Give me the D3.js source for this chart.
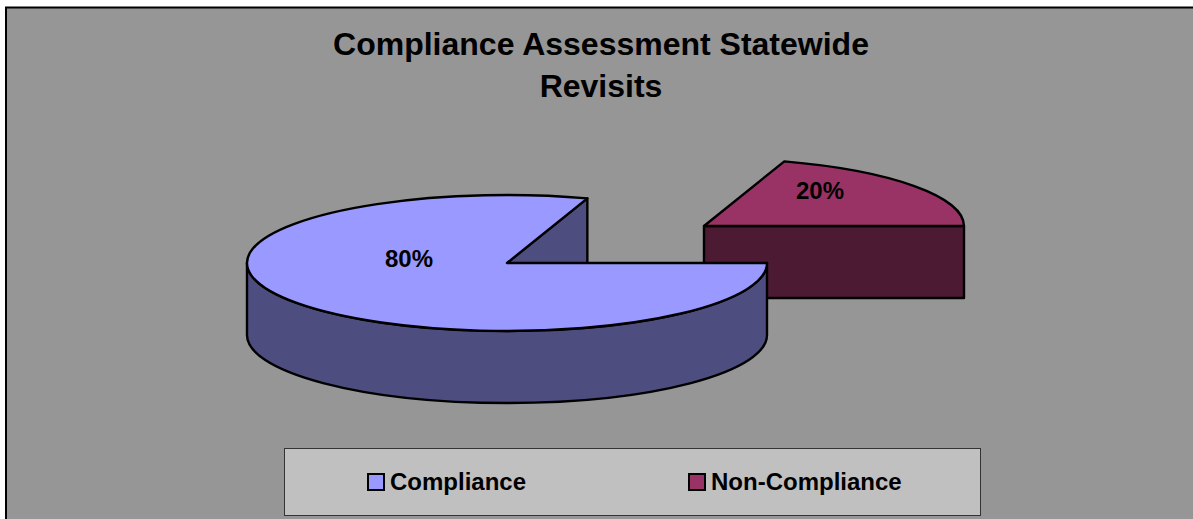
<!DOCTYPE html>
<html>
<head>
<meta charset="utf-8">
<script src="https://cdn.jsdelivr.net/npm/d3@7"></script>
<style>
    body { margin: 0; background: #fff; }
    svg { display: block; }
    text { font-family: "Liberation Sans", Arial, sans-serif; font-weight: bold; fill: #000; }
</style>
</head>
<body>
<div id="chart"></div>
<script>
// Chart data
const titleLines = ["Compliance Assessment Statewide", "Revisits"];
const categories = ["Compliance", "Non-Compliance"];
const values = [80, 20];
const percentLabels = ["80%", "20%"];
const topColors = ["#9999ff", "#993366"];
const sideColors = ["#4d4d80", "#4d1a33"];

const width = 1193, height = 519;
const rx = 260, ry = 68, depth = 72;
const center = { x: 507, y: 263 };
// Non-Compliance slice is pulled out of the pie
const offsets = [{ x: 0, y: 0 }, { x: 197, y: -37 }];
const labelPos = [{ x: 409, y: 259 }, { x: 820, y: 191 }];

const svg = d3.select("#chart")
    .append("svg")
    .attr("width", width)
    .attr("height", height);

// Background frame
svg.append("rect")
    .attr("x", 6).attr("y", 7.5)
    .attr("width", width + 10).attr("height", height + 10)
    .attr("fill", "#969696")
    .attr("stroke", "#000")
    .attr("stroke-width", 2);

// Title
svg.append("text")
    .attr("text-anchor", "middle")
    .style("font-size", "32px")
    .selectAll("tspan")
    .data(titleLines)
    .enter()
    .append("tspan")
    .attr("x", 601)
    .attr("y", (d, i) => 55 + i * 42)
    .text(d => d);

// Pie angles, clockwise from north, first slice starts at 3 o'clock
const pie = d3.pie()
    .sort(null)
    .startAngle(Math.PI / 2)
    .endAngle(Math.PI / 2 + 2 * Math.PI);
const slices = pie(values).map((d, i) => ({ ...d, index: i, offset: offsets[i] }));

const sx = d3.scaleLinear().domain([-1, 1]).range([-rx, rx]);
const sy = d3.scaleLinear().domain([-1, 1]).range([-ry, ry]);

function point(d, angle) {
    return [
        center.x + d.offset.x + sx(Math.sin(angle)),
        center.y + d.offset.y + sy(-Math.cos(angle))
    ];
}

function topPath(d) {
    const [x0, y0] = point(d, d.startAngle);
    const [x1, y1] = point(d, d.endAngle);
    const cx = center.x + d.offset.x, cy = center.y + d.offset.y;
    const large = d.endAngle - d.startAngle > Math.PI ? 1 : 0;
    return `M${cx},${cy}L${x0},${y0}A${rx},${ry} 0 ${large} 1 ${x1},${y1}Z`;
}

// Flat wall between the slice centre and a point on its rim
function radialWall(d, angle) {
    const [x, y] = point(d, angle);
    const cx = center.x + d.offset.x, cy = center.y + d.offset.y;
    return `M${cx},${cy}L${x},${y}L${x},${y + depth}L${cx},${cy + depth}Z`;
}

// Curved outer wall, only the front half of the pie can be seen
function outerWall(d) {
    const [x0, y0] = point(d, Math.PI / 2);
    const [x1, y1] = point(d, 3 * Math.PI / 2);
    return `M${x0},${y0}A${rx},${ry} 0 0 1 ${x1},${y1}L${x1},${y1 + depth}A${rx},${ry} 0 0 0 ${x0},${y0 + depth}Z`;
}

const strokeW = 2.4;

// Pulled out slice goes first, the big slice overlaps it
[slices[1], slices[0]].forEach(d => {
    const g = svg.append("g")
        .attr("stroke", "#000")
        .attr("stroke-width", strokeW)
        .attr("stroke-linejoin", "round");

    if (d.index === 0) {
        g.append("path").attr("d", radialWall(d, d.endAngle)).attr("fill", sideColors[d.index]);
        g.append("path").attr("d", outerWall(d)).attr("fill", sideColors[d.index]);
    } else {
        g.append("path").attr("d", radialWall(d, d.endAngle)).attr("fill", sideColors[d.index]);
    }
    g.append("path").attr("d", topPath(d)).attr("fill", topColors[d.index]);
});

// Data labels
svg.selectAll(".pct")
    .data(percentLabels)
    .enter()
    .append("text")
    .attr("class", "pct")
    .attr("x", (d, i) => labelPos[i].x)
    .attr("y", (d, i) => labelPos[i].y + 8)
    .attr("text-anchor", "middle")
    .style("font-size", "24px")
    .text(d => d);

// Legend
svg.append("rect")
    .attr("x", 284.5).attr("y", 448.5)
    .attr("width", 696).attr("height", 67)
    .attr("fill", "#c0c0c0")
    .attr("stroke", "#333")
    .attr("stroke-width", 1);

const legendX = d3.scalePoint().domain(categories).range([368, 689]);
const legend = svg.selectAll(".legend")
    .data(categories)
    .enter()
    .append("g")
    .attr("class", "legend")
    .attr("transform", d => `translate(${legendX(d)},474)`);

legend.append("rect")
    .attr("width", 16).attr("height", 16)
    .attr("fill", (d, i) => topColors[i])
    .attr("stroke", "#000")
    .attr("stroke-width", 2);

legend.append("text")
    .attr("x", 22)
    .attr("y", 16)
    .style("font-size", "24px")
    .text(d => d);
</script>
</body>
</html>
